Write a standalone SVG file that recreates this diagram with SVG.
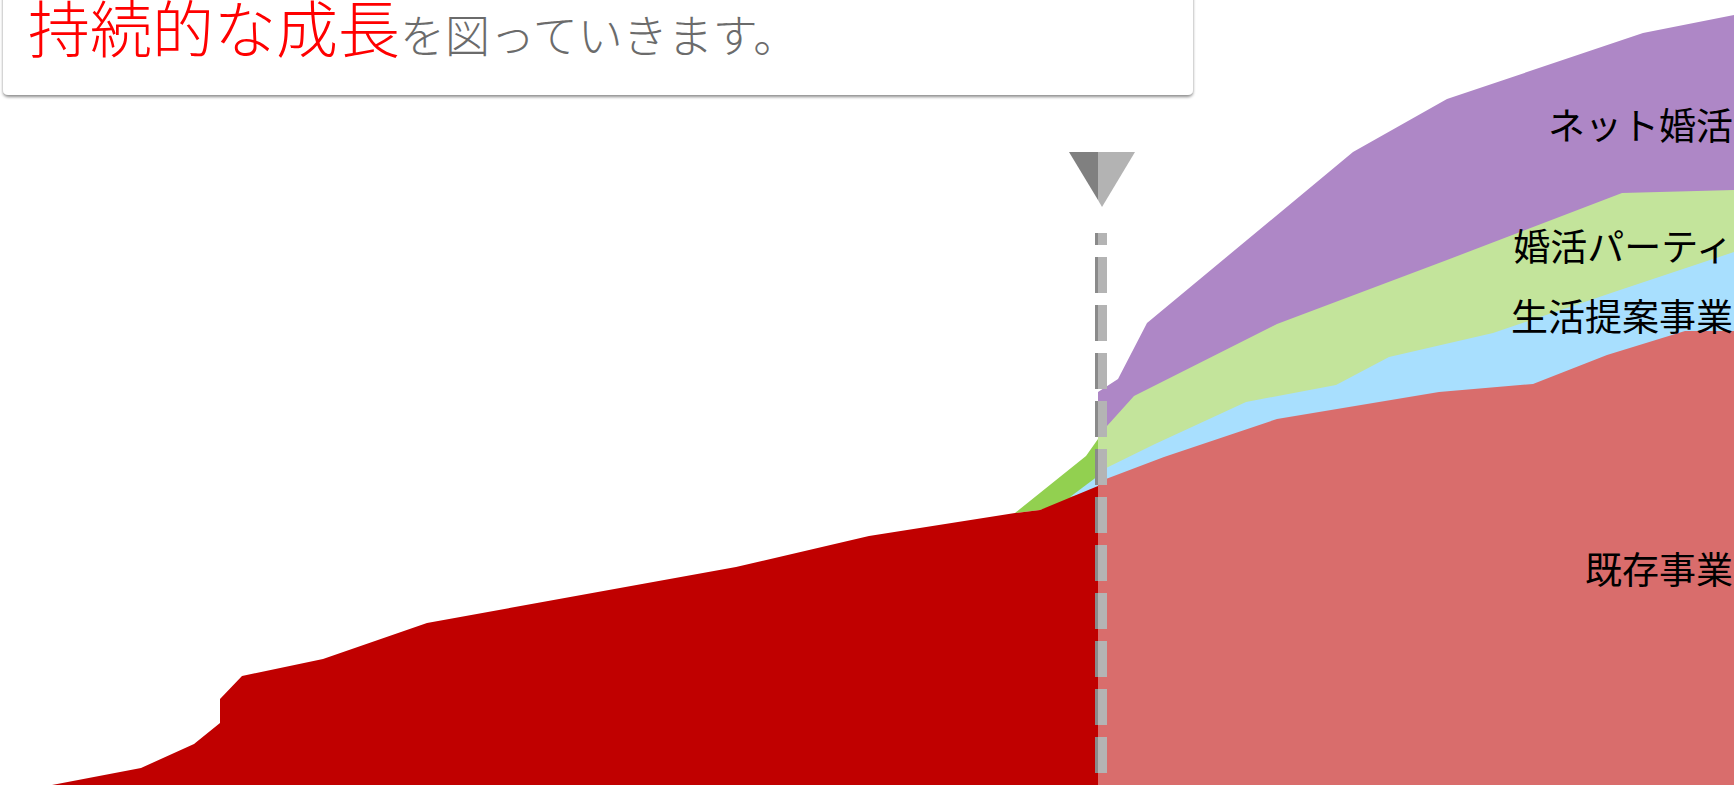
<svg xmlns="http://www.w3.org/2000/svg" width="1734" height="785" viewBox="0 0 1734 785">
<defs>
<style>
.lbl{font-family:"Noto Sans CJK JP","Noto Sans",sans-serif;font-size:37px;fill:#000;text-anchor:end}
.ttl{font-family:"Noto Sans CJK JP",sans-serif;font-weight:300}
</style>
<filter id="sh" x="-5%" y="-20%" width="110%" height="150%">
<feDropShadow dx="0" dy="2" stdDeviation="1.6" flood-color="#000" flood-opacity="0.45"/>
</filter>
</defs>
<rect width="1734" height="785" fill="#fff"/>
<g id="past-area">
<polygon fill="#92D050" points="1015,513 1086,456 1098,439 1098,492 1040,510"/>
<polygon fill="#A9DFFF" points="1070,497 1098,476 1098,490"/>
<polygon fill="#C00000" points="52,785 141,768 194,744 220,723 220,699 242,676 323,659 427,623 736,567 869,536 1015,513 1040,510 1098,486 1098,785"/>
</g>
<g id="net-konkatsu">
<polygon fill="#AE87C6" points="1098,392 1118,379 1147,323 1353,152 1447,99 1643,33 1734,15 1734,785 1098,785"/>
</g>
<g id="konkatsu-party">
<polygon fill="#C3E49B" points="1098,436 1134,396 1277,324 1447,260 1622,193 1734,190 1734,785 1098,785"/>
</g>
<g id="seikatsu-teian">
<polygon fill="#A8DFFE" points="1098,472 1155,444 1246,402 1336,385 1389,357 1493,333 1620,290 1734,252 1734,785 1098,785"/>
</g>
<g id="kizon-jigyo">
<polygon fill="#D96D6C" points="1098,482 1164,457 1277,419 1439,392 1533,384 1607,355 1685,331 1734,331 1734,785 1098,785"/>
</g>
<g id="connectors">
<line x1="1096.5" y1="233" x2="1096.5" y2="773" stroke="#8A8A8A" stroke-width="3" stroke-dasharray="36 12" stroke-dashoffset="24"/>
<line x1="1102.5" y1="233" x2="1102.5" y2="773" stroke="#B4B4B4" stroke-width="9" stroke-dasharray="36 12" stroke-dashoffset="24"/>
</g>
<g id="marker">
<polygon fill="#B3B3B3" points="1098,152 1135,152 1102,207 1098,200"/>
<polygon fill="#808080" points="1069,152 1098,152 1098,200"/>
</g>
<g id="labels">
<text class="lbl" x="1733" y="140">ネット婚活</text>
<text class="lbl" x="1733" y="261">婚活パーティ</text>
<text class="lbl" x="1733" y="331">生活提案事業</text>
<text class="lbl" x="1733" y="584">既存事業</text>
</g>
<g id="title-box">
<rect x="3" y="-20" width="1190" height="115" rx="5" fill="#fff" filter="url(#sh)"/>
<text class="ttl" x="28" y="53"><tspan fill="#FF0000" font-size="62">持続的な成長</tspan><tspan fill="#6B6B6B" font-size="45">を図っていきます。</tspan></text>
</g>
</svg>
